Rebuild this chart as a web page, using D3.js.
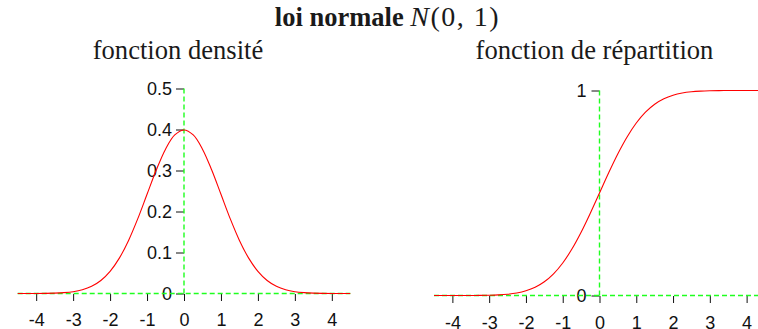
<!DOCTYPE html>
<html>
<head>
<meta charset="utf-8">
<script src="https://cdn.jsdelivr.net/npm/d3@7"></script>
<style>
  body { margin: 0; background: #fff; }
  svg { display: block; }
  .tick text { font-family: "Liberation Sans", Arial, sans-serif; font-size: 18px; fill: #111; }
  .tick line { stroke: #111; }
</style>
</head>
<body>
<div class="container"></div>
<script>
// values
const xs = [-4.5, -4.25, -4, -3.75, -3.5, -3.25, -3, -2.75, -2.5, -2.25, -2, -1.75, -1.5, -1.25, -1, -0.75, -0.5, -0.25,
            0, 0.25, 0.5, 0.75, 1, 1.25, 1.5, 1.75, 2, 2.25, 2.5, 2.75, 3, 3.25, 3.5, 3.75, 4, 4.25, 4.5];
const density = [0.00002, 0.00005, 0.00013, 0.00035, 0.00087, 0.00203, 0.0044, 0.0091, 0.0175, 0.0317, 0.054, 0.0863,
                 0.1295, 0.1826, 0.242, 0.3011, 0.3521, 0.3867, 0.3989, 0.3867, 0.3521, 0.3011, 0.242, 0.1826, 0.1295,
                 0.0863, 0.054, 0.0317, 0.0175, 0.0091, 0.0044, 0.00203, 0.00087, 0.00035, 0.00013, 0.00005, 0.00002];
const repartition = [0.000003, 0.00001, 0.00003, 0.00009, 0.00023, 0.00058, 0.00135, 0.003, 0.0062, 0.0122, 0.0228,
                     0.0401, 0.0668, 0.1056, 0.1587, 0.2266, 0.3085, 0.4013, 0.5, 0.5987, 0.6915, 0.7734, 0.8413,
                     0.8944, 0.9332, 0.9599, 0.9772, 0.9878, 0.9938, 0.997, 0.99865, 0.99942, 0.99977, 0.99991,
                     0.99997, 0.99999, 0.999997];
const xTicks = [-4, -3, -2, -1, 0, 1, 2, 3, 4];
const xTickLabels = ["-4", "-3", "-2", "-1", "0", "1", "2", "3", "4"];
const densTicks = [0, 0.1, 0.2, 0.3, 0.4, 0.5];
const densTickLabels = ["0", "0.1", "0.2", "0.3", "0.4", "0.5"];
const repTicks = [0, 1];
const repTickLabels = ["0", "1"];

const width = 758;
const height = 329;

const svg = d3.select("div.container")
    .append("svg")
    .attr("width", width)
    .attr("height", height);

// title
const title = svg.append("text")
    .attr("x", 387.5)
    .attr("y", 26)
    .attr("text-anchor", "middle")
    .style("font-family", "'Liberation Serif', 'Times New Roman', serif")
    .style("font-size", "26.5px")
    .attr("fill", "#1a1a1a");
title.append("tspan").attr("font-weight", "bold").text("loi normale ");
const math = title.append("tspan").style("font-size", "28px").style("letter-spacing", "1.5px");
math.append("tspan").attr("font-style", "italic").text("N");
math.append("tspan").text("(0, 1)");

function panel(opts) {
    const x = d3.scaleLinear().domain([-4.5, 4.5]).range(opts.xRange);
    const y = d3.scaleLinear().domain(opts.yDomain).range(opts.yRange);

    svg.append("text")
        .attr("x", opts.titleX)
        .attr("y", 59)
        .attr("text-anchor", "middle")
        .style("font-family", "'Liberation Serif', 'Times New Roman', serif")
        .style("font-size", "26.6px")
        .attr("fill", "#1a1a1a")
        .text(opts.title);

    // x axis (ticks only)
    const gx = svg.append("g")
        .attr("transform", "translate(0," + opts.xAxisY + ")")
        .call(d3.axisBottom(x)
            .tickValues(xTicks)
            .tickFormat((d, i) => xTickLabels[i])
            .tickSize(7)
            .tickPadding(opts.xPad));
    gx.select(".domain").remove();

    // y axis (ticks only)
    const gy = svg.append("g")
        .attr("transform", "translate(" + x(0) + ",0)")
        .call(d3.axisLeft(y)
            .tickValues(opts.yTicks)
            .tickFormat((d, i) => opts.yLabels[i])
            .tickSize(8)
            .tickPadding(opts.yPad));
    gy.select(".domain").remove();

    // green dashed reference lines
    svg.append("line")
        .attr("x1", x(-4.5)).attr("x2", x(4.5))
        .attr("y1", y(0)).attr("y2", y(0))
        .attr("stroke", "#1fff1f").attr("stroke-width", 1.4)
        .attr("stroke-dasharray", "5,3");
    svg.append("line")
        .attr("x1", x(0)).attr("x2", x(0))
        .attr("y1", y(opts.yDomain[1])).attr("y2", y(0))
        .attr("stroke", "#1fff1f").attr("stroke-width", 1.4)
        .attr("stroke-dasharray", "5,3");

    // curve
    const line = d3.line()
        .x((d, i) => x(xs[i]))
        .y(d => y(d))
        .curve(d3.curveCatmullRom);
    svg.append("path")
        .attr("d", line(opts.values))
        .attr("fill", "none")
        .attr("stroke", "red")
        .attr("stroke-width", 1.1);
}

panel({
    title: "fonction densité",
    titleX: 178,
    xRange: [17.7, 350.3],
    yDomain: [0, 0.5],
    yRange: [293.5, 88.5],
    xAxisY: 294,
    xPad: 12,
    yPad: 4,
    yTicks: densTicks,
    yLabels: densTickLabels,
    values: density
});

panel({
    title: "fonction de répartition",
    titleX: 594.5,
    xRange: [434, 765],
    yDomain: [0, 1],
    yRange: [295.5, 90.5],
    xAxisY: 296,
    xPad: 13,
    yPad: 5,
    yTicks: repTicks,
    yLabels: repTickLabels,
    values: repartition
});
</script>
</body>
</html>
